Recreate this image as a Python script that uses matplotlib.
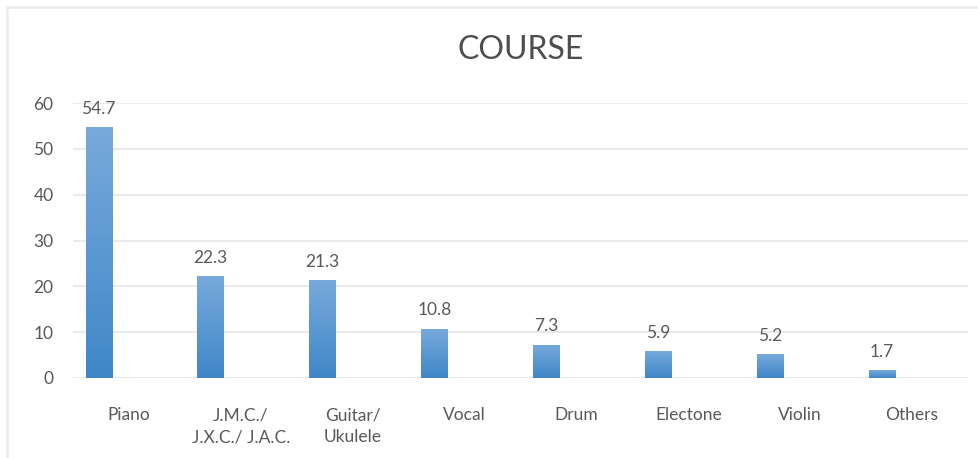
import numpy as np
import matplotlib.pyplot as plt
from matplotlib.lines import Line2D
from matplotlib.colors import LinearSegmentedColormap

categories = ['Piano', 'J.M.C./\nJ.X.C./ J.A.C.', 'Guitar/\nUkulele', 'Vocal',
              'Drum', 'Electone', 'Violin', 'Others']
values = [54.7, 22.3, 21.3, 10.8, 7.3, 5.9, 5.2, 1.7]
yticks = [0, 10, 20, 30, 40, 50, 60]

plt.rcParams['font.family'] = ['Lato', 'DejaVu Sans']
txt = '#595959'

fig = plt.figure(figsize=(9.79, 4.58), dpi=100)
ax = fig.add_axes([73 / 979, 80 / 458, 895 / 979, 275 / 458])

x = np.arange(len(categories))
bars = ax.bar(x - 0.27, values, width=0.235, color='#5b9bd5', zorder=2)

# gradient fill, lighter at the top
grad = np.linspace(0, 1, 256).reshape(-1, 1)
cmap = LinearSegmentedColormap.from_list('g', ['#3f87c8', '#78aadb'])
for b in bars:
    x0, w, h = b.get_x(), b.get_width(), b.get_height()
    im = ax.imshow(grad, cmap=cmap, aspect='auto', origin='lower',
                   extent=[x0, x0 + w, 0, h], zorder=3)
    im.set_clip_path(b)

for xi, v in zip(x, values):
    ax.text(xi - 0.27, v + 2.2, f'{v}', ha='center', va='bottom',
            fontsize=12.5, color=txt)

ax.set_xlim(-0.5, len(categories) - 0.5)
ax.set_ylim(0, 60)
ax.set_yticks(yticks)
ax.set_xticks(x)
ax.set_xticklabels(categories, fontsize=12.5, color=txt, va='top', linespacing=1.45)
ax.tick_params(axis='x', length=0, pad=21)
ax.tick_params(axis='y', length=0, pad=14, labelsize=12.5, labelcolor=txt)
ax.grid(axis='y', color='#e6e6e6', linewidth=1.2, zorder=0)
ax.set_axisbelow(True)
for s in ax.spines.values():
    s.set_visible(False)
ax.set_title('COURSE', fontsize=23, color='#4d4d4d', pad=32)

# light border around the chart area
fig.add_artist(Line2D([7 / 979, 7 / 979], [0, 1 - 7 / 458], color='#ebebeb',
                      linewidth=1.8, transform=fig.transFigure))
fig.add_artist(Line2D([7 / 979, 1], [1 - 7 / 458, 1 - 7 / 458], color='#ebebeb',
                      linewidth=1.8, transform=fig.transFigure))

fig.savefig('out.png', dpi=100)
